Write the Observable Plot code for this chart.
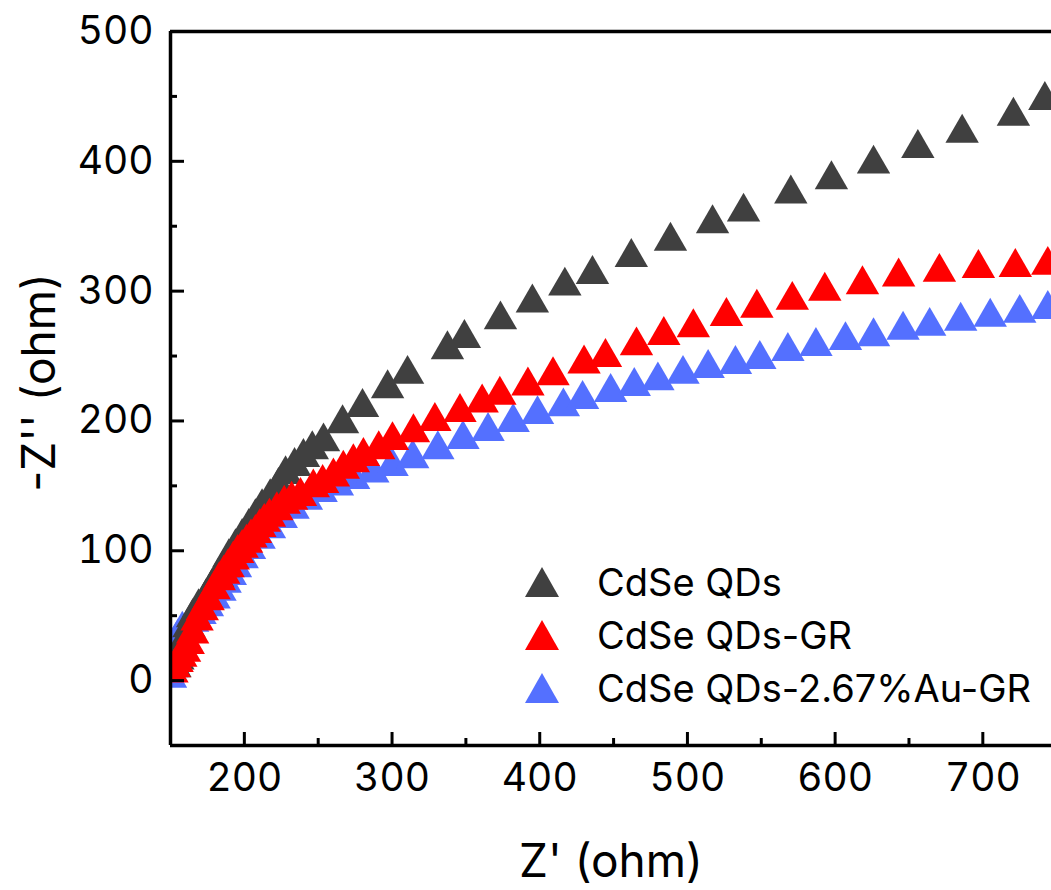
<!DOCTYPE html>
<html><head><meta charset="utf-8">
<script src="https://cdn.jsdelivr.net/npm/d3@7"></script>
<script src="https://cdn.jsdelivr.net/npm/@observablehq/plot@0.6"></script>
<style>
body{margin:0;background:#fff;}
#wrap{position:relative;width:1051px;height:890px;overflow:hidden;font-family:Inter,"Open Sans",sans-serif;}
#legend{position:absolute;left:525px;top:555px;}
.row{display:flex;align-items:center;height:53px;font-size:38px;color:#000;white-space:nowrap;}
.tri{width:0;height:0;border-left:17.5px solid transparent;border-right:17.5px solid transparent;border-bottom:30px solid;margin-right:38px;}
</style></head>
<body><div id="wrap"></div>
<script>
const seriesNames = ["CdSe QDs", "CdSe QDs-GR", "CdSe QDs-2.67%Au-GR"];
const seriesColors = ["#404040", "#ff0000", "#5470ff"];

const qdsX = [153,155,157.4,159.5,162.5,165,169,174,178,182,186,189.5,194,198.5,203,207.5,212,217.5,223.1,227.9,234,240,246,253.6,266.5,280,297,310.5,337.5,349,373.4,395,417,435.7,462,488.5,517,538,570,597.5,626,656,686,720.7,742];
const qdsY = [10,16,23.1,31,40.9,48.6,56.3,64,71.7,79.4,87.1,94.8,102.5,110.3,118,125.7,133.4,141.1,149.6,158.8,165,172,178,184,198,210.5,225,236,255,263.7,278,291,304,313,326,338.5,352,361,375,386,398,410,421.7,434.8,447];

const grX = [151,152.5,154.5,157,159.5,162,165,168,171.5,175.5,179.5,183,186,189,192.5,195.5,198.5,201.5,204.5,207.5,210.5,213.5,217,222,227,232,238,246.7,253,260.3,267,273.8,280.6,291,300.3,314.5,329,346,361,373,392,409,430,444.5,465.5,484,504,526.4,547,571,593,618.5,643,670.6,697,722,744];
const grY = [6,10,14,18,22,28,36,46,54,61.7,70,77,82,87,93,98,102,106,110,113.5,118,122,126,131,136,139,142,148.6,152,157,163,168,172.7,178,185,191,199.7,206.6,214,220,227,235,244,249,258,266,272,280.6,287,293,300,305,311,314.6,317.6,318.4,320];

const auX = [150,150.5,151.5,153,155,158,165,170,175,179.5,183.5,187,190.5,194,198.5,203.5,210,217,225,233,242,252,263,274,287,300,314,331,348,365,382,398.5,416,429,448,464,480,497,514,532.5,549,568,587,607,626,646,664,685,705,725,744];
const auY = [2,10,18,26,33,39,45,51,57,63,69,75,81,87,94,101,109,117,125,132,139,145,150,155,160,165,171,178,185.8,192,199,205,211,216.6,222,226.7,231,236,240.5,243.6,247.5,253.6,257.5,262,265,270,273,277,280,283,286];

const xMajor = [200,300,400,500,600,700];
const xMinor = [250,350,450,550,650];
const yMajor = [0,100,200,300,400,500];
const yMinor = [50,150,250,350,450];
const xDomain = [150, 746.5];
const yDomain = [-50, 500];
const xTitle = "Z' (ohm)";
const yTitle = "-Z'' (ohm)";

const toRows = (xs, ys, s) => xs.map((x, i) => ({x, y: ys[i], s}));
const blue = toRows(auX, auY, seriesNames[2]);
const black = toRows(qdsX, qdsY, seriesNames[0]);
const red = toRows(grX, grY, seriesNames[1]);

const dotOpts = {x: "x", y: "y", symbol: "triangle", r: 12.4, stroke: "none", clip: true};
const fs = 39;

const chart = Plot.plot({
  width: 1051, height: 890,
  marginLeft: 170, marginRight: 0, marginTop: 31, marginBottom: 145,
  style: {fontFamily: "Inter, 'Open Sans', sans-serif", fontSize: fs + "px", color: "#000", background: "#fff"},
  x: {domain: xDomain},
  y: {domain: yDomain},
  marks: [
    Plot.dot(blue, {...dotOpts, fill: seriesColors[2]}),
    Plot.dot(black, {...dotOpts, fill: seriesColors[0]}),
    Plot.dot(red, {...dotOpts, fill: seriesColors[1]}),
    Plot.axisX({ticks: xMajor, tickSize: -13, tickPadding: 31, strokeWidth: 3, fontSize: fs, label: null}),
    Plot.axisX({ticks: xMinor, tickSize: -7, strokeWidth: 3, text: null, label: null}),
    Plot.axisY({ticks: yMajor, tickSize: -14, tickPadding: 31, strokeWidth: 3, fontSize: fs, label: null}),
    Plot.axisY({ticks: yMinor, tickSize: -7, strokeWidth: 3, text: null, label: null}),
    Plot.ruleY([yDomain[0]], {stroke: "#000", strokeWidth: 3.5}),
    Plot.ruleY([yDomain[1]], {stroke: "#000", strokeWidth: 3.5}),
    Plot.ruleX([xDomain[0]], {stroke: "#000", strokeWidth: 3.5}),
    Plot.text([xTitle], {frameAnchor: "bottom", dy: 117, fontSize: 46, textAnchor: "middle", lineAnchor: "middle", fill: "#000"}),
    Plot.text([yTitle], {frameAnchor: "left", dx: -130, dy: -6, rotate: -90, fontSize: 46, textAnchor: "middle", lineAnchor: "middle", fill: "#000"})
  ]
});
const wrap = document.getElementById("wrap");
wrap.appendChild(chart);

const legend = document.createElement("div");
legend.id = "legend";
seriesNames.forEach((name, i) => {
  const row = document.createElement("div");
  row.className = "row";
  const tri = document.createElement("div");
  tri.className = "tri";
  tri.style.borderBottomColor = seriesColors[i];
  const label = document.createElement("span");
  label.textContent = name;
  row.appendChild(tri);
  row.appendChild(label);
  legend.appendChild(row);
});
wrap.appendChild(legend);
</script>
</body></html>
